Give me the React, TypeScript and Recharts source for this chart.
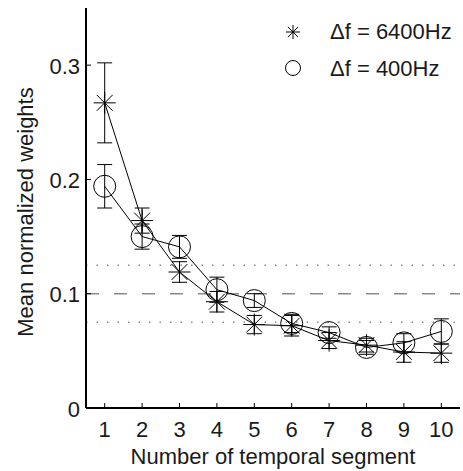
import React from 'react';
import { ComposedChart, Line, XAxis, YAxis, ErrorBar, ReferenceLine, Legend, Label } from 'recharts';

const segments = [1, 2, 3, 4, 5, 6, 7, 8, 9, 10];
const w6400 = [0.267, 0.164, 0.119, 0.093, 0.073, 0.072, 0.059, 0.055, 0.049, 0.048];
const e6400 = [0.035, 0.011, 0.009, 0.009, 0.008, 0.009, 0.007, 0.006, 0.009, 0.008];
const w400 = [0.194, 0.150, 0.141, 0.1035, 0.094, 0.074, 0.066, 0.053, 0.057, 0.067];
const e400 = [0.019, 0.011, 0.010, 0.011, 0.006, 0.008, 0.005, 0.006, 0.008, 0.011];
const xTicks = [1, 2, 3, 4, 5, 6, 7, 8, 9, 10];
const yTicks = [0, 0.1, 0.2, 0.3];
const yTickLabels = ['0', '0.1', '0.2', '0.3'];
const seriesNames = ['\u0394f = 6400Hz', '\u0394f = 400Hz'];
const xLabel = 'Number of temporal segment';
const yLabel = 'Mean normalized weights';

const data = segments.map((s, i) => ({
  seg: s,
  a: w6400[i],
  ea: e6400[i],
  b: w400[i],
  eb: e400[i],
}));

const FONT = '"Liberation Sans", Arial, Helvetica, sans-serif';
const TXT = '#1a1a1a';

const Asterisk = ({ cx, cy, r = 11 }: any) => {
  const d = r * 0.72;
  return (
    <g stroke="#000" strokeWidth={1} fill="none">
      <line x1={cx - r} y1={cy} x2={cx + r} y2={cy} />
      <line x1={cx} y1={cy - r} x2={cx} y2={cy + r} />
      <line x1={cx - d} y1={cy - d} x2={cx + d} y2={cy + d} />
      <line x1={cx - d} y1={cy + d} x2={cx + d} y2={cy - d} />
    </g>
  );
};

const AsteriskDot = (props: any) => {
  const { cx, cy, index } = props;
  if (cx == null || cy == null) return <g key={`a-${index}`} />;
  return <g key={`a-${index}`}><Asterisk cx={cx} cy={cy} r={11} /></g>;
};

const CircleDot = (props: any) => {
  const { cx, cy, index } = props;
  if (cx == null || cy == null) return <g key={`c-${index}`} />;
  return <circle key={`c-${index}`} cx={cx} cy={cy} r={11} stroke="#000" strokeWidth={1} fill="none" />;
};

const BottomTick = (props: any) => {
  const { x, y, payload } = props;
  return (
    <g>
      <line x1={x} x2={x} y1={y} y2={y - 5} stroke="#000" strokeWidth={1} />
      <text x={x} y={y + 29} textAnchor="middle" fontSize={22} fontFamily={FONT} fill={TXT}>
        {payload.value}
      </text>
    </g>
  );
};

const TopTick = (props: any) => {
  const { x, y } = props;
  return <line x1={x} x2={x} y1={y} y2={y + 5} stroke="#000" strokeWidth={1} />;
};

const LeftTick = (props: any) => {
  const { x, y, payload } = props;
  const idx = yTicks.indexOf(payload.value);
  return (
    <g>
      <line x1={x} x2={x + 5} y1={y} y2={y} stroke="#000" strokeWidth={1} />
      <text x={x - 6} y={y + 8.5} textAnchor="end" fontSize={22} fontFamily={FONT} fill={TXT}>
        {idx >= 0 ? yTickLabels[idx] : payload.value}
      </text>
    </g>
  );
};

const RightTick = (props: any) => {
  const { x, y } = props;
  return <line x1={x} x2={x - 5} y1={y} y2={y} stroke="#000" strokeWidth={1} />;
};

const LegendContent = () => (
  <svg width={463} height={100} style={{ pointerEvents: 'none', overflow: 'visible' }}>
    <Asterisk cx={293} cy={32} r={7} />
    <text x={330} y={38.5} fontSize={22} fontFamily={FONT} fill={TXT}>{seriesNames[0]}</text>
    <circle cx={293} cy={68} r={7.5} stroke="#000" strokeWidth={1} fill="none" />
    <text x={330} y={75.5} fontSize={22} fontFamily={FONT} fill={TXT}>{seriesNames[1]}</text>
  </svg>
);

const YLabelContent = () => (
  <text
    x={33}
    y={212}
    transform="rotate(-90, 33, 212)"
    textAnchor="middle"
    fontSize={22}
    fontFamily={FONT}
    fill={TXT}
  >
    {yLabel}
  </text>
);

export default function App() {
  return (
    <div style={{ position: 'absolute', left: 0, top: 0, width: 463, height: 471, background: '#fff' }}>
      <ComposedChart width={463} height={471} data={data} margin={{ top: 8, right: 3, left: 0, bottom: 0 }}>
        <XAxis
          dataKey="seg"
          type="number"
          domain={[0.5, 10.5]}
          ticks={xTicks}
          height={63}
          tickSize={0}
          tickMargin={0}
          tick={<BottomTick />}
          tickLine={false}
          axisLine={{ stroke: '#000', strokeWidth: 2 }}
          allowDataOverflow
          interval={0}
        >
          <Label value={xLabel} position="insideBottom" offset={7} fontSize={22} fontFamily={FONT} fill={TXT} />
        </XAxis>
        <XAxis
          xAxisId="top"
          orientation="top"
          type="number"
          dataKey="seg"
          domain={[0.5, 10.5]}
          ticks={xTicks}
          height={0}
          tickSize={0}
          tickMargin={0}
          tick={<TopTick />}
          tickLine={false}
          axisLine={{ stroke: '#000', strokeWidth: 2 }}
          allowDataOverflow
          interval={0}
        />
        <YAxis
          type="number"
          domain={[0, 0.35]}
          ticks={yTicks}
          width={86}
          tickSize={0}
          tickMargin={0}
          tick={<LeftTick />}
          tickLine={false}
          axisLine={{ stroke: '#000', strokeWidth: 2 }}
          allowDataOverflow
          interval={0}
          label={<YLabelContent />}
        />
        <YAxis
          yAxisId="right"
          orientation="right"
          type="number"
          domain={[0, 0.35]}
          ticks={yTicks}
          width={0}
          tickSize={0}
          tickMargin={0}
          tick={<RightTick />}
          tickLine={false}
          axisLine={{ stroke: '#000', strokeWidth: 2 }}
          allowDataOverflow
          interval={0}
        />
        <ReferenceLine y={0.125} stroke="#8a8a8a" strokeWidth={1.5} strokeDasharray="1.5 9" />
        <ReferenceLine y={0.075} stroke="#8a8a8a" strokeWidth={1.5} strokeDasharray="1.5 9" />
        <ReferenceLine y={0.1} stroke="#8a8a8a" strokeWidth={1.5} strokeDasharray="13 15" />
        <Line
          dataKey="a"
          name={seriesNames[0]}
          stroke="#000"
          strokeWidth={1}
          dot={AsteriskDot}
          activeDot={false}
          isAnimationActive={false}
        >
          <ErrorBar dataKey="ea" width={7.5} stroke="#000" strokeWidth={1} direction="y" isAnimationActive={false} />
        </Line>
        <Line
          dataKey="b"
          name={seriesNames[1]}
          stroke="#000"
          strokeWidth={1}
          dot={CircleDot}
          activeDot={false}
          isAnimationActive={false}
        >
          <ErrorBar dataKey="eb" width={7.5} stroke="#000" strokeWidth={1} direction="y" isAnimationActive={false} />
        </Line>
        <Legend
          layout="horizontal"
          align="center"
          verticalAlign="middle"
          wrapperStyle={{ position: 'absolute', left: 0, top: 0, width: 463, height: 100, pointerEvents: 'none' }}
          content={<LegendContent />}
        />
      </ComposedChart>
    </div>
  );
}
